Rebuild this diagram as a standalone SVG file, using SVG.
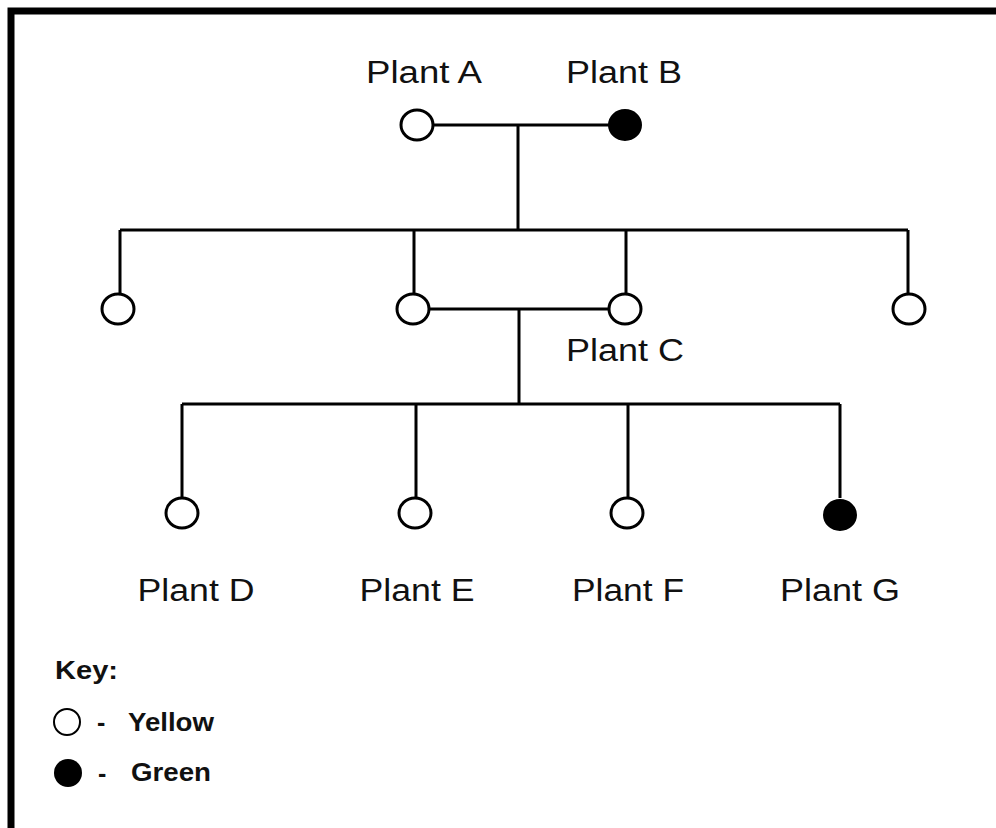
<svg xmlns="http://www.w3.org/2000/svg" width="996" height="828" viewBox="0 0 996 828">
<style>
.ln{stroke:#000;stroke-width:3;fill:none}
.o{fill:#fff;stroke:#000;stroke-width:3}
.f{fill:#000;stroke:#000;stroke-width:2}
.lb{font-family:"Liberation Sans",Arial,sans-serif;font-size:31px;fill:#111}
.k{font-family:"Liberation Sans",Arial,sans-serif;font-size:25px;font-weight:bold;fill:#111}
</style>
<rect width="996" height="828" fill="#fff"/>
<g id="frame">
<path d="M11,835 V11 H1000" fill="none" stroke="#000" stroke-width="7"/>
</g>
<g id="connectors">
<path class="ln" d="M432,125 H609 M518,125 V230 M120,230 H908 M120,230 V294 M414,230 V294 M626,230 V294 M908,230 V294"/>
<path class="ln" d="M429,309 H609 M519,309 V404 M182,404 H840 M182,404 V498 M416,404 V498 M628,404 V498 M840,404 V498"/>
</g>
<g id="plantA"><ellipse class="o" cx="417" cy="125" rx="16" ry="15"/><text class="lb" x="424" y="83" text-anchor="middle" textLength="116" lengthAdjust="spacingAndGlyphs">Plant A</text></g>
<g id="plantB"><ellipse class="f" cx="625" cy="125" rx="16" ry="15"/><text class="lb" x="624" y="83" text-anchor="middle" textLength="116" lengthAdjust="spacingAndGlyphs">Plant B</text></g>
<g id="child1"><ellipse class="o" cx="118" cy="309" rx="16" ry="15"/></g>
<g id="child2"><ellipse class="o" cx="413" cy="309" rx="16" ry="15"/></g>
<g id="plantC"><ellipse class="o" cx="625" cy="309" rx="16" ry="15"/><text class="lb" x="625" y="361" text-anchor="middle" textLength="118" lengthAdjust="spacingAndGlyphs">Plant C</text></g>
<g id="child4"><ellipse class="o" cx="909" cy="309" rx="16" ry="15"/></g>
<g id="plantD"><ellipse class="o" cx="182" cy="513" rx="16" ry="15"/><text class="lb" x="196" y="601" text-anchor="middle" textLength="117" lengthAdjust="spacingAndGlyphs">Plant D</text></g>
<g id="plantE"><ellipse class="o" cx="415" cy="513" rx="16" ry="15"/><text class="lb" x="417" y="601" text-anchor="middle" textLength="115" lengthAdjust="spacingAndGlyphs">Plant E</text></g>
<g id="plantF"><ellipse class="o" cx="627" cy="513" rx="16" ry="15"/><text class="lb" x="628" y="601" text-anchor="middle" textLength="112" lengthAdjust="spacingAndGlyphs">Plant F</text></g>
<g id="plantG"><ellipse class="f" cx="840" cy="515" rx="16" ry="15"/><text class="lb" x="840" y="601" text-anchor="middle" textLength="120" lengthAdjust="spacingAndGlyphs">Plant G</text></g>
<g id="key">
<text class="k" x="55" y="679" textLength="63" lengthAdjust="spacingAndGlyphs">Key:</text>
<ellipse cx="67" cy="722" rx="13" ry="13" fill="#fff" stroke="#000" stroke-width="2"/>
<text class="k" x="97" y="731" font-size="20">-</text>
<text class="k" x="128" y="731" textLength="86" lengthAdjust="spacingAndGlyphs">Yellow</text>
<ellipse cx="68" cy="773" rx="14" ry="14" fill="#000"/>
<text class="k" x="98" y="782" font-size="22">-</text>
<text class="k" x="131" y="781" textLength="80" lengthAdjust="spacingAndGlyphs">Green</text>
</g>
</svg>
